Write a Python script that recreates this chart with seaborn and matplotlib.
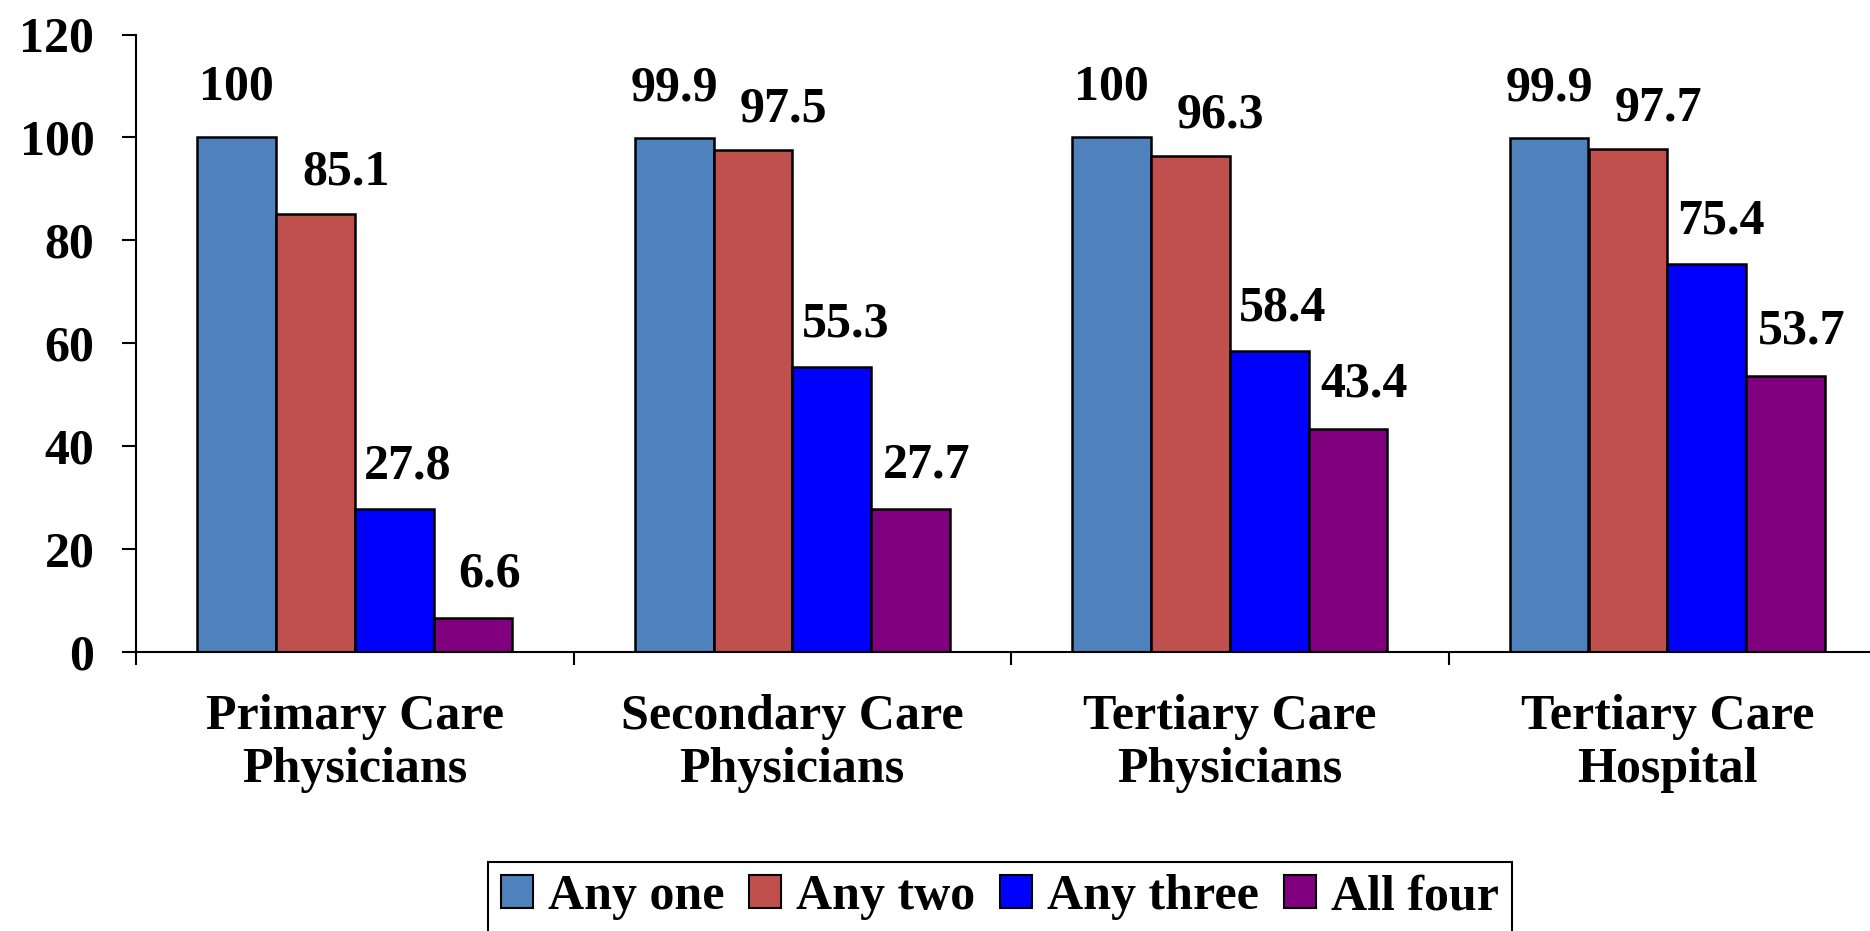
import matplotlib
matplotlib.use("Agg")
import matplotlib.pyplot as plt
import matplotlib.patches as mpatches
import pandas as pd
import seaborn as sns

# data
categories = ["Primary Care\nPhysicians", "Secondary Care\nPhysicians",
              "Tertiary Care\nPhysicians", "Tertiary Care\nHospital"]
series = ["Any one", "Any two", "Any three", "All four"]
any_one = [100, 99.9, 100, 99.9]
any_two = [85.1, 97.5, 96.3, 97.7]
any_three = [27.8, 55.3, 58.4, 75.4]
all_four = [6.6, 27.7, 43.4, 53.7]
y_ticks = [0, 20, 40, 60, 80, 100, 120]

colors = ["#4F81BD", "#C0504D", "#0000FF", "#800080"]
# value label offset per series, in points (dx, dy above bar top)
label_offset = [(0, 27), (22, 21), (10, 22), (12, 23)]

df = pd.DataFrame({
    "group": categories * len(series),
    "series": [s for s in series for _ in categories],
    "value": any_one + any_two + any_three + all_four,
})

sns.set_style("ticks")
plt.rcParams["font.family"] = ["Liberation Serif", "DejaVu Serif"]
plt.rcParams["font.weight"] = "bold"
for key in ["text.color", "axes.labelcolor", "xtick.color", "ytick.color", "axes.edgecolor"]:
    plt.rcParams[key] = "black"
FS = 36

fig = plt.figure(figsize=(18.7, 9.31), dpi=100)
W, H = 1870, 931
# axes in pixel terms; the category axis runs off the right edge like the original
ax = fig.add_axes([136 / W, 1 - 652 / H, 1750 / W, 617.5 / H])

sns.barplot(data=df, x="group", y="value", hue="series", hue_order=series,
            order=categories, palette=dict(zip(series, colors)),
            width=0.72, edgecolor="black", linewidth=1.8, saturation=1,
            legend=False, ax=ax)

for cont, (dx, dy) in zip(ax.containers, label_offset):
    for bar in cont:
        v = bar.get_height()
        ax.annotate(f"{v:g}", xy=(bar.get_x() + bar.get_width() / 2, v),
                    xytext=(dx, dy), textcoords="offset points",
                    ha="center", va="baseline", fontsize=FS, fontweight="bold",
                    color="black", annotation_clip=False)

ax.set_xlim(-0.5, 3.5)
ax.set_ylim(0, 120)
ax.set_yticks(y_ticks)
ax.set_yticklabels([str(t) for t in y_ticks], fontsize=FS, fontweight="bold")
ax.set_xticks([i - 0.5 for i in range(len(categories) + 1)])
ax.set_xticklabels([""] * (len(categories) + 1))
ax.set_xticks(range(len(categories)), minor=True)
ax.set_xticklabels(categories, minor=True, fontsize=FS, fontweight="bold")
ax.tick_params(axis="x", which="major", direction="out", length=9.5, width=1.5,
               bottom=True)
ax.tick_params(axis="x", which="minor", length=0, pad=30, bottom=True)
ax.tick_params(axis="y", direction="out", length=10, width=1.5, pad=20, left=True)
ax.set_xlabel("")
ax.set_ylabel("")

for side in ["top", "right"]:
    ax.spines[side].set_visible(False)
for side in ["left", "bottom"]:
    ax.spines[side].set_color("black")
    ax.spines[side].set_linewidth(1.5)

handles = [mpatches.Patch(facecolor=c, edgecolor="black", linewidth=1.5, label=s)
           for s, c in zip(series, colors)]
leg = fig.legend(handles=handles, loc="upper center", ncol=4,
                 bbox_to_anchor=(1000 / W, 1 - 862 / H), borderaxespad=0,
                 prop={"size": FS, "weight": "bold"},
                 handlelength=0.64, handleheight=0.64, handletextpad=0.3,
                 columnspacing=0.5, borderpad=0.25, fancybox=False,
                 framealpha=1, edgecolor="black")
leg.get_frame().set_linewidth(1.5)

fig.savefig("out.png", dpi=100)
